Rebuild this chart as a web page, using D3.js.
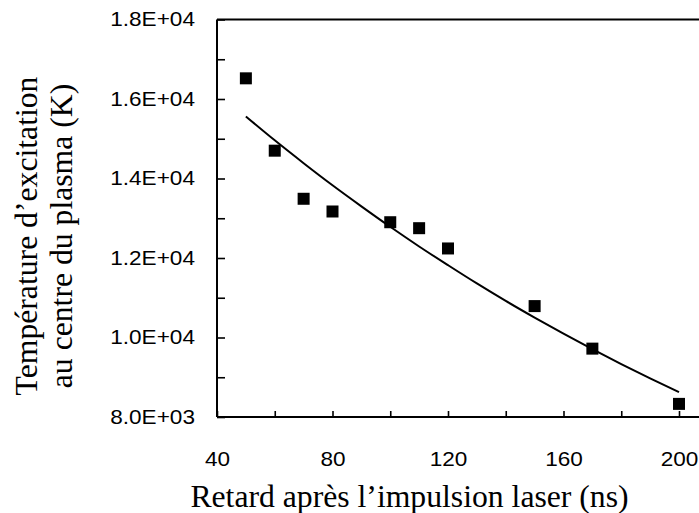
<!DOCTYPE html>
<html>
<head>
<meta charset="utf-8">
<script src="https://cdn.jsdelivr.net/npm/d3@7"></script>
<style>
    body { margin: 0; background: #fff; }
    svg { display: block; }
</style>
</head>
<body>
<div id="chart"></div>
<script>
// Mesures : température d'excitation en fonction du retard
const delay = [50, 60, 70, 80, 100, 110, 120, 150, 170, 200];
const temperature = [16520, 14700, 13490, 13170, 12900, 12750, 12240, 10790, 9720, 8330];

// Courbe d'ajustement
const fitDelay = [50, 60, 70, 80, 90, 100, 110, 120, 130, 140, 150, 160, 170, 180, 190, 200];
const fitTemp = [15560, 14960, 14385, 13830, 13300, 12785, 12290, 11820, 11360, 10920, 10500, 10095, 9705, 9330, 8970, 8625];

const xTicks = [40, 60, 80, 100, 120, 140, 160, 180, 200];
const yTicks = [8000, 9000, 10000, 11000, 12000, 13000, 14000, 15000, 16000, 17000, 18000];

const W = 699, H = 513;
const margin = { top: 19.5, left: 217, bottom: 96 };

const svg = d3.select("#chart").append("svg")
    .attr("width", W)
    .attr("height", H);

const x = d3.scaleLinear().domain([40, 200]).range([margin.left, 679]);
const y = d3.scaleLinear().domain([8000, 18000]).range([H - margin.bottom, margin.top]);

const stretch = "scale(1.13,1)";

// format 1.8E+04
function sci(d) {
    const e = Math.floor(Math.log10(d));
    return (d / Math.pow(10, e)).toFixed(1) + "E+" + String(e).padStart(2, "0");
}

// Axe Y
const gy = svg.append("g")
    .attr("transform", `translate(${margin.left},0)`)
    .call(d3.axisLeft(y)
        .tickValues(yTicks)
        .tickSizeInner(-8)
        .tickSizeOuter(0)
        .tickPadding(19.5)
        .tickFormat(d => d % 2000 === 0 ? sci(d) : ""));
gy.select(".domain").remove();
gy.selectAll("line").attr("stroke", "#000").attr("stroke-width", 1.6);
gy.selectAll("text")
    .attr("transform", stretch)
    .style("font-family", "'Liberation Sans', Arial, sans-serif")
    .style("font-size", "20px")
    .attr("fill", "#000");

// Axe X
const gx = svg.append("g")
    .attr("transform", `translate(0,${y(8000)})`)
    .call(d3.axisBottom(x)
        .tickValues(xTicks)
        .tickSizeInner(-6)
        .tickSizeOuter(0)
        .tickPadding(35)
        .tickFormat(d => d % 40 === 0 ? d : ""));
gx.select(".domain").remove();
gx.selectAll("line").attr("stroke", "#000").attr("stroke-width", 1.6);
gx.selectAll("text")
    .attr("transform", stretch)
    .style("font-family", "'Liberation Sans', Arial, sans-serif")
    .style("font-size", "20px")
    .attr("fill", "#000");

// Cadre : gauche, bas, haut (coupé à droite)
svg.append("line")
    .attr("x1", margin.left).attr("x2", margin.left)
    .attr("y1", y(18000)).attr("y2", y(8000))
    .attr("stroke", "#000").attr("stroke-width", 2);
svg.append("line")
    .attr("x1", margin.left).attr("x2", W)
    .attr("y1", y(8000)).attr("y2", y(8000))
    .attr("stroke", "#000").attr("stroke-width", 2);
svg.append("line")
    .attr("x1", margin.left).attr("x2", W)
    .attr("y1", y(18000)).attr("y2", y(18000))
    .attr("stroke", "#000").attr("stroke-width", 2);

// Courbe d'ajustement
const fit = fitDelay.map((d, i) => ({ x: d, y: fitTemp[i] }));
svg.append("path")
    .datum(fit)
    .attr("fill", "none")
    .attr("stroke", "#000")
    .attr("stroke-width", 2)
    .attr("d", d3.line().x(d => x(d.x)).y(d => y(d.y)).curve(d3.curveMonotoneX));

// Points
const s = 12;
svg.selectAll(".pt")
    .data(delay.map((d, i) => ({ x: d, y: temperature[i] })))
    .enter()
    .append("rect")
    .attr("class", "pt")
    .attr("x", d => x(d.x) - s / 2)
    .attr("y", d => y(d.y) - s / 2)
    .attr("width", s)
    .attr("height", s)
    .attr("fill", "#000");

// Titres des axes
svg.append("text")
    .attr("x", 409.5)
    .attr("y", 506.5)
    .attr("text-anchor", "middle")
    .style("font-family", "'Liberation Serif', 'Times New Roman', serif")
    .style("font-size", "31.7px")
    .text("Retard après l’impulsion laser (ns)");

const yTitle = ["Température d’excitation", "au centre du plasma (K)"];
svg.selectAll(".ytitle")
    .data(yTitle)
    .enter()
    .append("text")
    .attr("class", "ytitle")
    .attr("transform", (d, i) => `translate(${i === 0 ? 37 : 72},236) rotate(-90)`)
    .attr("text-anchor", "middle")
    .style("font-family", "'Liberation Serif', 'Times New Roman', serif")
    .style("font-size", "31.7px")
    .text(d => d);
</script>
</body>
</html>
